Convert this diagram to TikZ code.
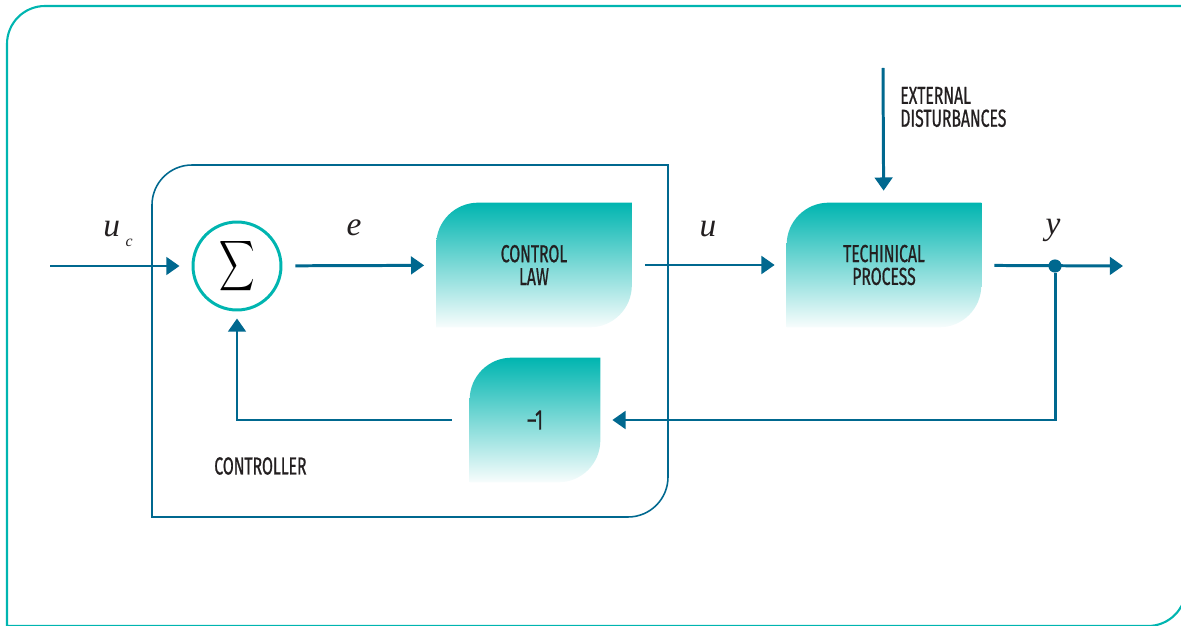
\documentclass[tikz,border=0pt]{standalone}
\usepackage{fontspec}
\setmainfont[FakeStretch=0.64, FakeBold=0.7]{Fira Sans}
\newfontfamily\labelfont{Liberation Serif}
\usetikzlibrary{arrows.meta,backgrounds}
\definecolor{leafteal}{RGB}{0,181,176}
\definecolor{flowblue}{RGB}{0,104,143}
\definecolor{inkgrey}{RGB}{35,31,32}
\tikzset{flow/.style = {draw=flowblue, line width=1.7pt, -{Triangle[length=7.5pt,width=10pt]},
    shorten <=0.26cm, shorten >=0.24cm},
  leaf/.style = {inner sep=0pt, align=center, text=inkgrey, font=\fontsize{14}{13}\selectfont},
  leafshade/.style = {top color=leafteal, middle color=leafteal!55, bottom color=leafteal!3},
  sig/.style = {text=inkgrey, font=\labelfont\itshape\fontsize{19}{19}\selectfont}}
\newcommand{\leafpath}[2]{(#1.south west) -- ([yshift=-#2]#1.north west)
  arc[start angle=180, end angle=90, radius=#2] -- (#1.north east)
  -- ([yshift=#2]#1.south east) arc[start angle=0, end angle=-90, radius=#2] -- cycle}

\begin{document}
\begin{tikzpicture}[x=0.02cm, y=0.02cm]
  \useasboundingbox (0,0) rectangle (1181,626);
  \begin{scope}
    \clip (0,0) rectangle (1181,626);
    \draw[leafteal, line width=1.2pt] (7,0) -- (7,582) arc[start angle=180, end angle=90, radius=0.76cm]
      -- (1186,620) -- (1186,38) arc[start angle=0, end angle=-90, radius=0.76cm] -- cycle;
  \end{scope}
  % controller frame
  \draw[flowblue, line width=0.9pt] (152,109) -- (152,421) arc[start angle=180, end angle=90, radius=0.8cm]
    -- (668,461) -- (668,149) arc[start angle=0, end angle=-90, radius=0.8cm] -- cycle;
  \node[draw=leafteal, line width=1.7pt, circle, minimum size=1.76cm, inner sep=0pt] (sum) at (237,360)
    {\scalebox{1.4}[2.0]{$\displaystyle\sum$}};
  \node[leaf, minimum width=3.9cm, minimum height=2.48cm] (law) at (534,361) {CONTROL\\LAW};
  \node[leaf, minimum width=3.88cm, minimum height=2.48cm] (process) at (884,361) {TECHINICAL\\PROCESS};
  \node[leaf, minimum width=2.6cm, minimum height=2.48cm, font=\fontsize{16}{16}\selectfont] (neg) at (535,206)
    {\textendash1};
  \begin{scope}[on background layer]
    \shade[leafshade] \leafpath{law}{0.84cm};
    \shade[leafshade] \leafpath{process}{0.84cm};
    \shade[leafshade] \leafpath{neg}{0.84cm};
  \end{scope}
  \coordinate (in) at (50,360);
  \coordinate (out) at (1123,360);
  \coordinate (dist) at (883,558);
  \node[circle, fill=flowblue, inner sep=0pt, minimum size=7.5pt] (tap) at (1055,360) {};
  \draw[flow, shorten <=0pt] (in) -- (sum);
  \draw[flow] (sum) -- (law);
  \draw[flow] (law) -- (process);
  \draw[flow, shorten >=0pt] (process) -- (out);
  \draw[flow, shorten <=0pt] (dist) -- (process);
  \draw[flow, shorten <=0pt] (tap) |- (neg);
  \draw[flow, shorten <=0.36cm, shorten >=0.14cm] (neg) -| (sum);
  \node[sig] (uclab) at (118,392) {u\,\raisebox{-0.6ex}{\fontsize{9}{9}\selectfont c}};
  \node[sig] (elab) at (354,398) {e};
  \node[sig] (ulab) at (708,397) {u};
  \node[sig] (ylab) at (1053,396) {y};
  \node[leaf, anchor=west, align=left] (distlab) at (900,519) {EXTERNAL\\DISTURBANCES};
  \node[leaf, anchor=west] (ctrllab) at (214,160) {CONTROLLER};
\end{tikzpicture}
\end{document}
